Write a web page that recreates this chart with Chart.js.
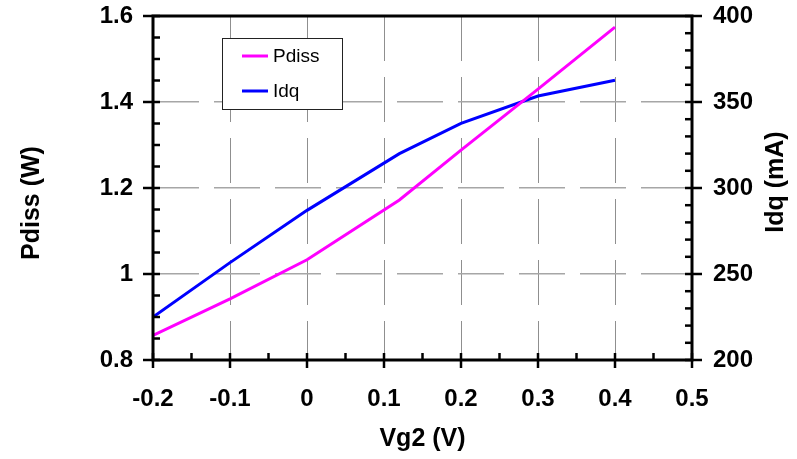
<!DOCTYPE html>
<html>
<head>
<meta charset="utf-8">
<script src="https://cdn.jsdelivr.net/npm/chart.js@4.4.1/dist/chart.umd.min.js"></script>
<style>
  html, body { margin: 0; padding: 0; background: #fff; }
  #wrap { width: 797px; height: 459px; }
</style>
</head>
<body>
<div id="wrap"><canvas id="c" width="797" height="459"></canvas></div>
<script>
// Gate-2 bias sweep: dissipated power and quiescent drain current
const vg2   = [-0.2, -0.1, 0, 0.12, 0.2, 0.3, 0.4];
const pdiss = [0.857, 0.942, 1.033, 1.172, 1.288, 1.43, 1.574];
const idq   = [225, 256.6, 287, 320, 337.6, 353.5, 362.6];

const xTicks      = [-0.2, -0.1, 0, 0.1, 0.2, 0.3, 0.4, 0.5];
const xTickLabels = ['-0.2', '-0.1', '0', '0.1', '0.2', '0.3', '0.4', '0.5'];
const pTicks      = [0.8, 1, 1.2, 1.4, 1.6];
const pTickLabels = ['0.8', '1', '1.2', '1.4', '1.6'];
const iTicks      = [200, 250, 300, 350, 400];
const iTickLabels = ['200', '250', '300', '350', '400'];

const xTitle = 'Vg2 (V)';
const pTitle = 'Pdiss (W)';
const iTitle = 'Idq (mA)';

const FONT = '"Liberation Sans", Arial, Helvetica, sans-serif';
Chart.defaults.font.family = FONT;

function labelFor(values, labels, v) {
  let best = 0;
  values.forEach((t, i) => { if (Math.abs(t - v) < Math.abs(values[best] - v)) best = i; });
  return labels[best];
}

// Frame, minor/major tick marks, in-plot legend and axis titles
const decor = {
  id: 'decor',
  afterDatasetsDraw(chart) {
    const { ctx, chartArea: a, scales } = chart;
    const xs = scales.x, yp = scales.yP, yi = scales.yI;
    const seg = (x1, y1, x2, y2) => { ctx.beginPath(); ctx.moveTo(x1, y1); ctx.lineTo(x2, y2); ctx.stroke(); };
    ctx.save();

    ctx.strokeStyle = '#000';
    ctx.lineWidth = 3;
    ctx.strokeRect(a.left, a.top, a.right - a.left, a.bottom - a.top);

    ctx.lineWidth = 2.5;
    // bottom axis: minor every 0.05, major every 0.1
    for (let k = 0; k <= 14; k++) {
      const px = xs.getPixelForValue(-0.2 + k * 0.05);
      const major = k % 2 === 0;
      seg(px, a.bottom - 7, px, a.bottom + (major ? 8 : 0));
    }
    // left axis: minor every 0.05 W, major every 0.2 W
    for (let k = 0; k <= 16; k++) {
      const py = yp.getPixelForValue(0.8 + k * 0.05);
      const major = k % 4 === 0;
      seg(a.left - (major ? 10 : 0), py, a.left + 7, py);
    }
    // right axis: minor every 10 mA, major every 50 mA
    for (let k = 0; k <= 20; k++) {
      const py = yi.getPixelForValue(200 + k * 10);
      const major = k % 5 === 0;
      seg(a.right - 7, py, a.right + (major ? 10 : 0), py);
    }

    // legend box
    const bx = 222, by = 38, bw = 120, bh = 71;
    ctx.fillStyle = '#fff';
    ctx.fillRect(bx, by, bw, bh);
    ctx.lineWidth = 1;
    ctx.strokeStyle = '#222';
    ctx.strokeRect(bx + 0.5, by + 0.5, bw, bh);
    ctx.font = '19px ' + FONT;
    ctx.textAlign = 'left';
    ctx.textBaseline = 'middle';
    chart.data.datasets.forEach((ds, i) => {
      const ly = 56 + i * 35;
      ctx.strokeStyle = ds.borderColor;
      ctx.lineWidth = 3;
      seg(242, ly, 268, ly);
      ctx.fillStyle = '#000';
      ctx.fillText(ds.label, 273, ly + 1);
    });

    // axis titles
    ctx.fillStyle = '#000';
    ctx.font = 'bold 25px ' + FONT;
    ctx.textAlign = 'center';
    ctx.textBaseline = 'middle';
    ctx.fillText(xTitle, (a.left + a.right) / 2, 439);

    ctx.save();
    ctx.translate(32, 203);
    ctx.rotate(-Math.PI / 2);
    ctx.fillText(pTitle, 0, 0);
    ctx.restore();

    ctx.save();
    ctx.translate(776, 182);
    ctx.rotate(-Math.PI / 2);
    ctx.fillText(iTitle, 0, 0);
    ctx.restore();

    ctx.restore();
  }
};

const tickFont = { size: 24, weight: 'bold' };

const fitY = w => s => { s.width = w; s.paddingTop = 0; s.paddingBottom = 0; };

new Chart(document.getElementById('c'), {
  type: 'line',
  data: {
    datasets: [
      {
        label: 'Pdiss',
        data: vg2.map((x, i) => ({ x, y: pdiss[i] })),
        yAxisID: 'yP',
        borderColor: '#ff00ff',
        borderWidth: 3,
        pointRadius: 0,
        tension: 0,
        fill: false
      },
      {
        label: 'Idq',
        data: vg2.map((x, i) => ({ x, y: idq[i] })),
        yAxisID: 'yI',
        borderColor: '#0000ff',
        borderWidth: 3,
        pointRadius: 0,
        tension: 0,
        fill: false
      }
    ]
  },
  options: {
    responsive: false,
    animation: false,
    devicePixelRatio: 1,
    layout: { padding: { top: 16, left: 0, right: 0, bottom: 0 } },
    plugins: { legend: { display: false }, tooltip: { enabled: false } },
    scales: {
      x: {
        type: 'linear',
        position: 'bottom',
        min: -0.2,
        max: 0.5,
        afterBuildTicks: s => { s.ticks = xTicks.map(v => ({ value: v })); },
        afterFit: s => { s.height = 99; s.paddingLeft = 0; s.paddingRight = 0; },
        grid: { color: '#8f8f8f', lineWidth: 1, drawTicks: false },
        border: { display: false, dash: [45, 16] },
        ticks: {
          padding: 25, color: '#000', font: tickFont,
          maxRotation: 0, autoSkip: false,
          callback: v => labelFor(xTicks, xTickLabels, v)
        }
      },
      yP: {
        type: 'linear',
        position: 'left',
        min: 0.8,
        max: 1.6,
        afterBuildTicks: s => { s.ticks = pTicks.map(v => ({ value: v })); },
        afterFit: fitY(153),
        grid: { color: '#a6a6a6', lineWidth: 1.5, drawTicks: false },
        border: { display: false, dash: [46, 15] },
        ticks: {
          padding: 20, color: '#000', font: tickFont, autoSkip: false,
          callback: v => labelFor(pTicks, pTickLabels, v)
        }
      },
      yI: {
        type: 'linear',
        position: 'right',
        min: 200,
        max: 400,
        afterBuildTicks: s => { s.ticks = iTicks.map(v => ({ value: v })); },
        afterFit: fitY(105),
        grid: { display: false, drawTicks: false },
        border: { display: false },
        ticks: {
          padding: 21, color: '#000', font: tickFont, autoSkip: false,
          callback: v => labelFor(iTicks, iTickLabels, v)
        }
      }
    }
  },
  plugins: [decor]
});
</script>
</body>
</html>
